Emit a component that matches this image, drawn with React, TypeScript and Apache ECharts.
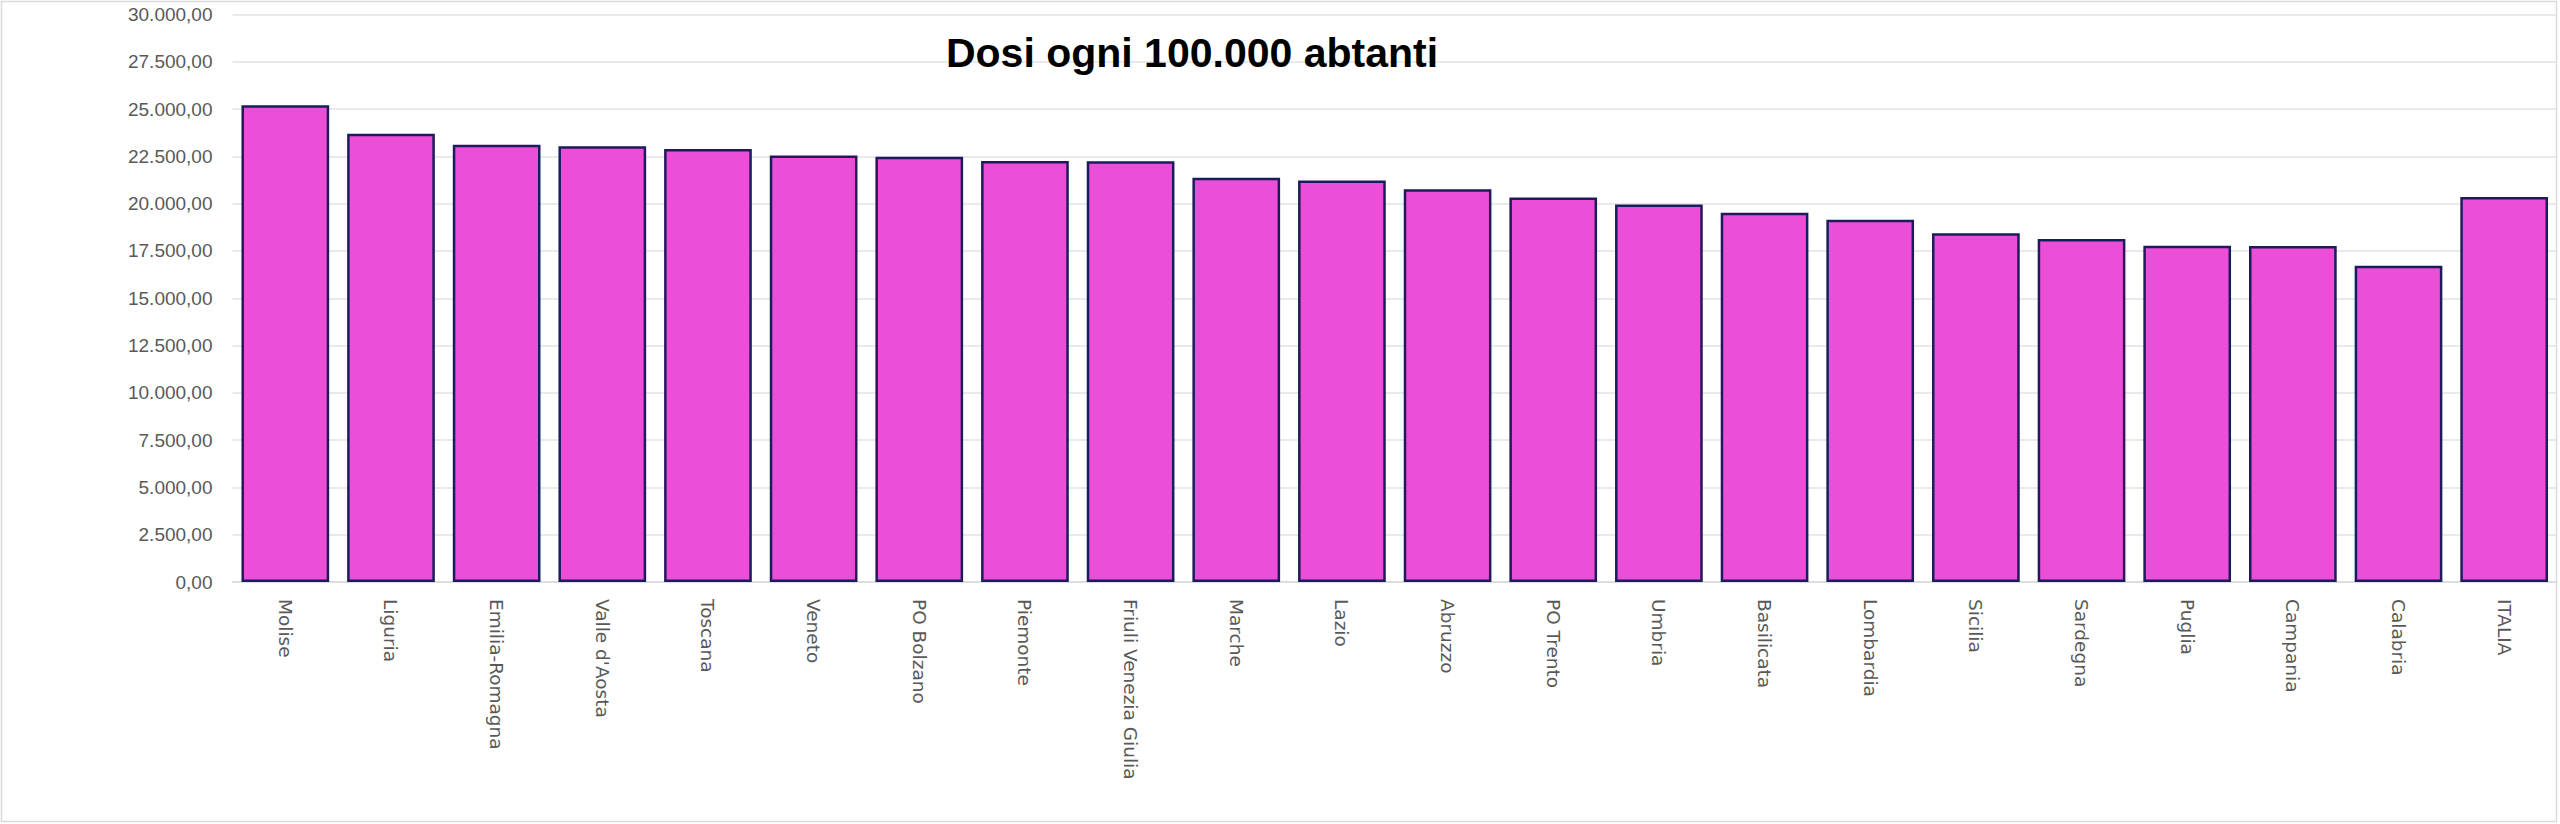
import React, { useEffect, useRef } from "react";
import * as echarts from "echarts";

const categories: string[] = [
  "Molise", "Liguria", "Emilia-Romagna", "Valle d'Aosta", "Toscana", "Veneto",
  "PO Bolzano", "Piemonte", "Friuli Venezia Giulia", "Marche", "Lazio", "Abruzzo",
  "PO Trento", "Umbria", "Basilicata", "Lombardia", "Sicilia", "Sardegna",
  "Puglia", "Campania", "Calabria", "ITALIA",
];

const dosiOgni100k: number[] = [
  25200, 23700, 23110, 23040, 22890, 22550,
  22480, 22250, 22240, 21370, 21230, 20760,
  20330, 19960, 19520, 19150, 18430, 18130,
  17780, 17760, 16720, 20350,
];

const yMin = 0;
const yMax = 30000;
const yStep = 2500;

const titleText = "Dosi ogni 100.000 abtanti";

function formatIt(v: number): string {
  const fixed = v.toFixed(2);
  const [intPart, dec] = fixed.split(".");
  const withSep = intPart.replace(/\B(?=(\d{3})+(?!\d))/g, ".");
  return withSep + "," + dec;
}

export default function App() {
  const ref = useRef<HTMLDivElement>(null);

  useEffect(() => {
    if (!ref.current) return;
    const chart = echarts.init(ref.current, undefined, { renderer: "svg" });
    chart.setOption({
      animation: false,
      backgroundColor: "#ffffff",
      grid: { left: 232.5, right: 3, top: 14.5, bottom: 242, containLabel: false },
      graphic: [
        {
          type: "rect",
          shape: { x: 1.5, y: 1.5, width: 2555, height: 820 },
          style: { fill: "none", stroke: "#d9d9d9", lineWidth: 1.5 },
          silent: true,
          z: 0,
        },
        {
          type: "text",
          x: 1192,
          y: 53,
          style: {
            text: titleText,
            fill: "#000000",
            font: "bold 41px 'Liberation Sans', Arial, sans-serif",
            textAlign: "center",
            textVerticalAlign: "middle",
          },
          z: 10,
        },
      ],
      xAxis: {
        type: "category",
        data: categories,
        axisLine: { show: true, lineStyle: { color: "#d9d9d9", width: 1.5 } },
        axisTick: { show: false },
        axisLabel: {
          rotate: -90,
          margin: 17,
          color: "#595959",
          fontFamily: "DejaVu Sans",
          fontSize: 18.5,
          interval: 0,
        },
      },
      yAxis: {
        type: "value",
        min: yMin,
        max: yMax,
        interval: yStep,
        axisLine: { show: false },
        axisTick: { show: false },
        splitLine: { show: true, lineStyle: { color: "#e3e3e3", width: 1.5 } },
        axisLabel: {
          margin: 20,
          color: "#595959",
          fontFamily: "Liberation Sans",
          fontSize: 19,
          formatter: (v: number) => formatIt(v),
        },
      },
      series: [
        {
          type: "bar",
          data: dosiOgni100k,
          barCategoryGap: "17%",
          itemStyle: {
            color: "#EC4ED8",
            borderColor: "#1c1c5c",
            borderWidth: 2.5,
          },
        },
      ],
    });
    return () => chart.dispose();
  }, []);

  return (
    <div
      ref={ref}
      style={{ position: "absolute", left: 0, top: 0, width: 2560, height: 824 }}
    />
  );
}
